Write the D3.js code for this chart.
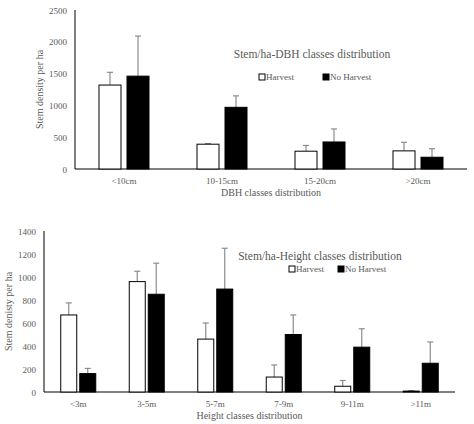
<!DOCTYPE html><html><head><meta charset="utf-8"><script src="https://cdn.jsdelivr.net/npm/d3@7"></script>
<style>body{margin:0;background:#fff}text{font-family:"Liberation Serif",serif;fill:#595959}</style></head><body>
<svg id="c" width="474" height="424"></svg>
<script>
const dbhCats=["<10cm","10-15cm","15-20cm",">20cm"];
const dbhHarvest=[1320,390,280,285];
const dbhNoHarvest=[1460,970,425,185];
const dbhHarvestErr=[200,10,90,135];
const dbhNoHarvestErr=[630,180,205,135];
const dbhTicks=[0,500,1000,1500,2000,2500];
const htCats=["<3m","3-5m","5-7m","7-9m","9-11m",">11m"];
const htHarvest=[670,960,460,130,50,8];
const htNoHarvest=[160,850,895,500,390,250];
const htHarvestErr=[105,90,140,105,50,4];
const htNoHarvestErr=[45,270,355,170,160,185];
const htTicks=[0,200,400,600,800,1000,1200,1400];
const svg=d3.select("#c");
function chart(o){
  const g=svg.append("g");
  const x=d3.scaleBand().domain(o.cats).range([o.x0,o.x1]);
  const y=d3.scaleLinear().domain([0,o.max]).range([o.y0,o.y1]);
  const bw=o.bw, gap=o.gap;
  // axes
  g.append("line").attr("x1",o.x0).attr("x2",o.x0).attr("y1",o.y0).attr("y2",o.y1).attr("stroke","#000");
  g.append("line").attr("x1",o.x0).attr("x2",o.x1).attr("y1",o.y0).attr("y2",o.y0).attr("stroke","#000");
  g.selectAll(".yt").data(o.ticks).join("text").attr("x",o.x0-8).attr("y",d=>y(d)+3.5).attr("text-anchor","end").attr("font-size",9).text(d=>d);
  g.selectAll(".xt").data(o.cats).join("text").attr("x",d=>x(d)+x.bandwidth()/2).attr("y",o.y0+15).attr("text-anchor","middle").attr("font-size",9).text(d=>d);
  const series=[[o.h,o.he,"#fff"],[o.n,o.ne,"#000"]];
  series.forEach(([vals,errs,fill],si)=>{
    o.cats.forEach((c,i)=>{
      const cx=x(c)+x.bandwidth()/2+(si===0?-(bw+gap)/2:(bw+gap)/2);
      const top=y(vals[i]+errs[i]);
      g.append("line").attr("x1",cx).attr("x2",cx).attr("y1",y(vals[i])).attr("y2",top).attr("stroke","#8c8c8c").attr("stroke-width",1.2);
      g.append("line").attr("x1",cx-3).attr("x2",cx+3).attr("y1",top).attr("y2",top).attr("stroke","#8c8c8c").attr("stroke-width",1.2);
      g.append("rect").attr("x",cx-bw/2).attr("y",y(vals[i])).attr("width",bw).attr("height",o.y0-y(vals[i])).attr("fill",fill).attr("stroke","#000").attr("stroke-width",1);
    });
  });
  g.append("text").attr("x",o.tx).attr("y",o.ty).attr("text-anchor","middle").attr("font-size",11.5).text(o.title);
  [["Harvest","#fff",o.lx1],["No Harvest","#000",o.lx2]].forEach(([t,f,lx])=>{
    g.append("rect").attr("x",lx).attr("y",o.ly-6).attr("width",6).attr("height",6).attr("fill",f).attr("stroke","#000");
    g.append("text").attr("x",lx+7).attr("y",o.ly).attr("font-size",9).text(t);
  });
  g.append("text").attr("x",(o.x0+o.x1)/2).attr("y",o.y0+27).attr("text-anchor","middle").attr("font-size",10).text(o.xl);
  g.append("text").attr("transform",`translate(${o.ylx},${(o.y0+o.y1)/2}) rotate(-90)`).attr("text-anchor","middle").attr("font-size",10).text(o.yl);
}
chart({cats:dbhCats,h:dbhHarvest,n:dbhNoHarvest,he:dbhHarvestErr,ne:dbhNoHarvestErr,ticks:dbhTicks,max:2500,
  x0:75,x1:467,y0:169,y1:10,bw:22,gap:6,title:"Stem/ha-DBH classes distribution",tx:312,ty:58,ly:80,lx1:259,lx2:323,
  xl:"DBH classes distribution",yl:"Stem density per ha",ylx:43});
chart({cats:htCats,h:htHarvest,n:htNoHarvest,he:htHarvestErr,ne:htNoHarvestErr,ticks:htTicks,max:1400,
  x0:44,x1:455,y0:392,y1:231,bw:16,gap:3,title:"Stem/ha-Height classes distribution",tx:320,ty:260,ly:272,lx1:289,lx2:338,
  xl:"Height classes distribution",yl:"Stem denisty per ha",ylx:12});
</script></body></html>
